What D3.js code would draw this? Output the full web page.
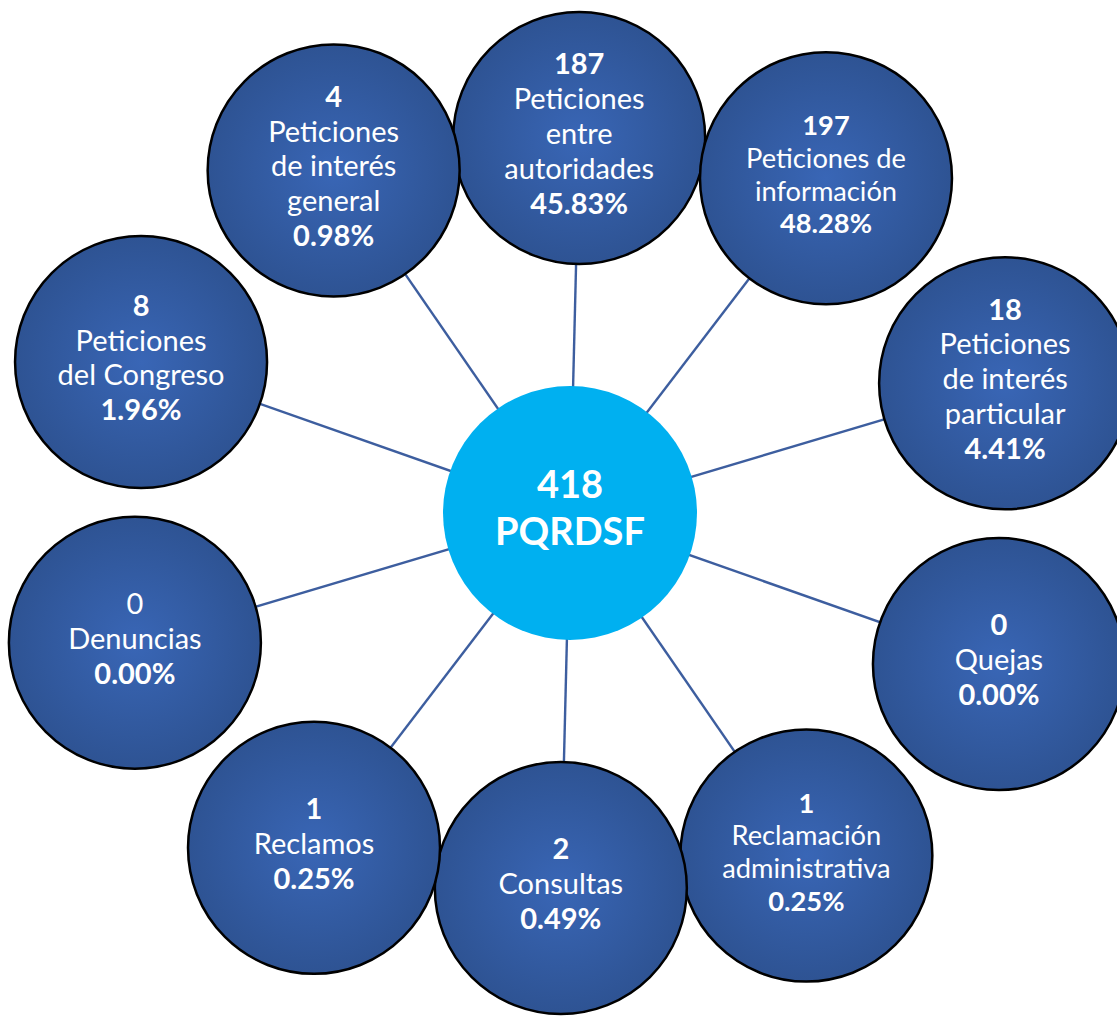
<!DOCTYPE html>
<html>
<head>
<meta charset="utf-8">
<script src="https://cdn.jsdelivr.net/npm/d3@7"></script>
<style>
  html, body { margin: 0; padding: 0; background: #fff; }
  svg { display: block; }
  text { font-family: Lato, "Open Sans", sans-serif; fill: #fff; }
</style>
</head>
<body>
<svg id="chart" width="1117" height="1021"></svg>
<script>
// --- data (clockwise from the top)
const categories = [
  "Peticiones entre autoridades",
  "Peticiones de información",
  "Peticiones de interés particular",
  "Quejas",
  "Reclamación administrativa",
  "Consultas",
  "Reclamos",
  "Denuncias",
  "Peticiones del Congreso",
  "Peticiones de interés general"
];
const nameLines = [
  ["Peticiones", "entre", "autoridades"],
  ["Peticiones de", "información"],
  ["Peticiones", "de interés", "particular"],
  ["Quejas"],
  ["Reclamación", "administrativa"],
  ["Consultas"],
  ["Reclamos"],
  ["Denuncias"],
  ["Peticiones", "del Congreso"],
  ["Peticiones", "de interés", "general"]
];
const counts = [187, 197, 18, 0, 1, 2, 1, 0, 8, 4];
const percents = [45.83, 48.28, 4.41, 0.00, 0.25, 0.49, 0.25, 0.00, 1.96, 0.98];
const total = 418;
const totalLabel = "PQRDSF";

// --- layout / style
const W = 1117, H = 1021;
const cx = 570, cy = 513;
const nodeR = 126, hubR = 127;
const ring = { a: 448, b: 375, n: 2.5, rot: 1.4 };
const fontSize = 29, lineH = 34.8;
const smallText = new Set(["Peticiones de información", "Reclamación administrativa"]);
const plainCount = new Set(["Denuncias"]);

const fmtPct = d => d3.format(".2f")(d) + "%";

const svg = d3.select("#chart");

const defs = svg.append("defs");
const grad = defs.append("radialGradient").attr("id", "nodeFill")
  .attr("cx", "50%").attr("cy", "50%").attr("r", "50%");
grad.append("stop").attr("offset", "0%").attr("stop-color", "#3966b6");
grad.append("stop").attr("offset", "100%").attr("stop-color", "#2e5393");

// angle per category around the ring
const angle = d3.scalePoint().domain(categories).range([0, 324]);
// squarish ring: wider than tall
function ringDist(deg) {
  const t = deg * Math.PI / 180;
  const s = Math.abs(Math.sin(t)) / ring.a, c = Math.abs(Math.cos(t)) / ring.b;
  return Math.pow(Math.pow(s, ring.n) + Math.pow(c, ring.n), -1 / ring.n);
}

const nodes = categories.map((name, i) => {
  const deg = angle(name) + ring.rot;
  const r = ringDist(deg);
  const t = deg * Math.PI / 180;
  return {
    name,
    lines: nameLines[i],
    count: counts[i],
    pct: percents[i],
    x: cx + r * Math.sin(t),
    y: cy - r * Math.cos(t)
  };
});

// spokes
svg.append("g").selectAll("line")
  .data(nodes).join("line")
  .attr("x1", cx).attr("y1", cy)
  .attr("x2", d => d.x).attr("y2", d => d.y)
  .attr("stroke", "#3d5e9f").attr("stroke-width", 2.4);

// hub
svg.append("circle").attr("cx", cx).attr("cy", cy).attr("r", hubR).attr("fill", "#00b0f0");
const hubText = svg.append("text").attr("text-anchor", "middle")
  .attr("font-weight", 700).attr("font-size", 38);
hubText.append("tspan").attr("x", cx).attr("y", cy - 15).text(total);
hubText.append("tspan").attr("x", cx).attr("y", cy + 32).text(totalLabel);

// outer nodes
const node = svg.append("g").selectAll("g")
  .data(nodes).join("g")
  .attr("transform", d => `translate(${d.x},${d.y})`);

node.append("circle")
  .attr("r", nodeR)
  .attr("fill", "url(#nodeFill)")
  .attr("stroke", "#000").attr("stroke-width", 2.5);

node.each(function(d) {
  const k = smallText.has(d.name) ? 0.94 : 1;
  const rows = [
    { text: d.count, bold: !plainCount.has(d.name) },
    ...d.lines.map(t => ({ text: t, bold: false })),
    { text: fmtPct(d.pct), bold: true }
  ];
  const lh = lineH * k;
  const t = d3.select(this).append("text")
    .attr("text-anchor", "middle")
    .attr("font-size", fontSize * k);
  rows.forEach((row, i) => {
    t.append("tspan")
      .attr("x", 0)
      .attr("y", 6 + (i - (rows.length - 1) / 2) * lh)
      .attr("font-weight", row.bold ? 700 : 400)
      .text(row.text);
  });
});
</script>
</body>
</html>
